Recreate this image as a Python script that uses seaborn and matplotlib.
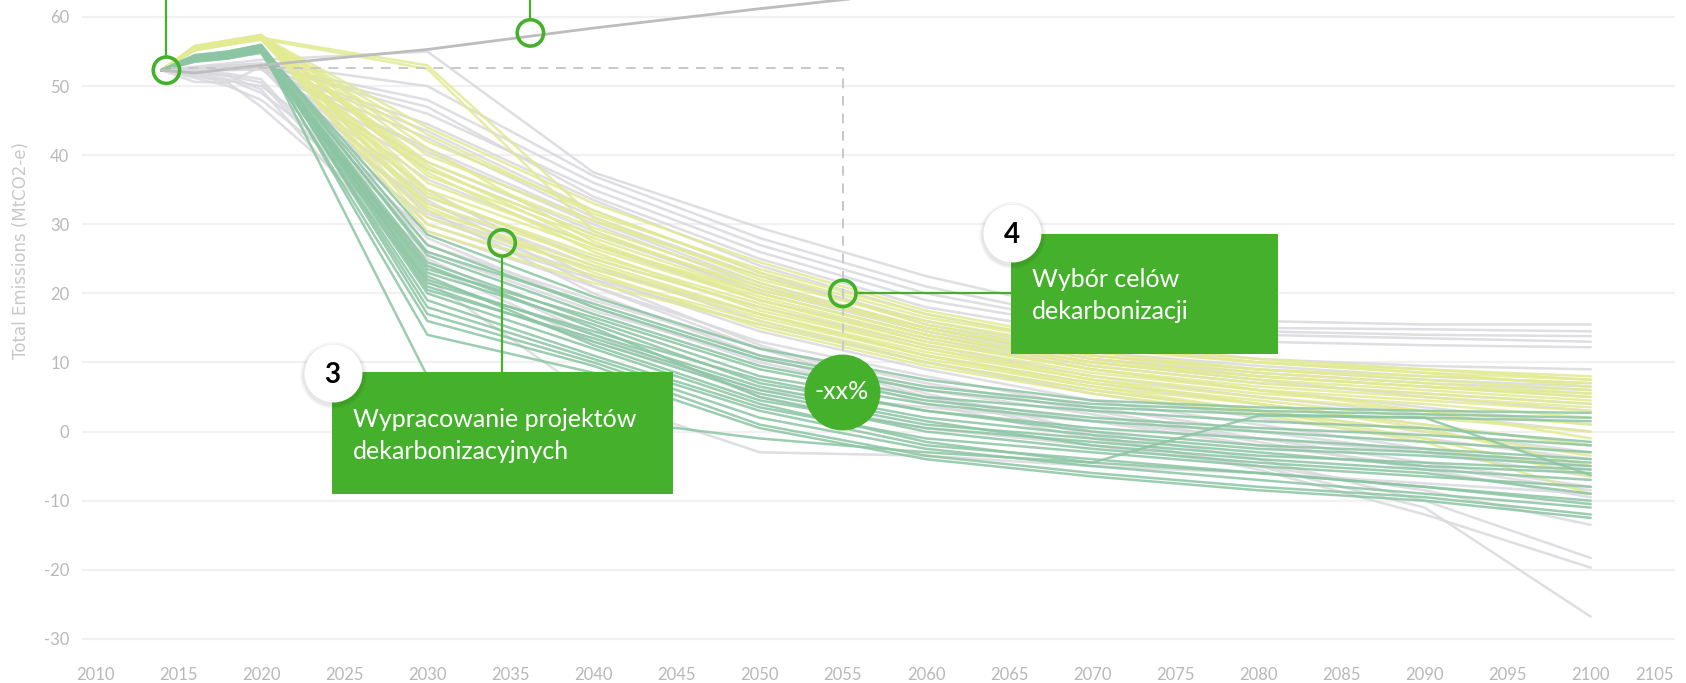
import numpy as np
import pandas as pd
import matplotlib
matplotlib.use("Agg")
import matplotlib.pyplot as plt
import seaborn as sns
from matplotlib.patches import Rectangle

# ==========================================
# Data
# ==========================================
YEARS = [2014, 2016, 2018, 2020, 2030, 2040, 2050, 2060, 2070, 2080, 2090, 2100]

GREY_PATHS = [
	[52.3, 52.8, 53.3, 53.8, 55.0, 37.5, 29.5, 22.5, 17.0, 16.0, 15.5, 15.5],
	[52.3, 52.6, 53.0, 53.3, 50.0, 37.0, 28.0, 21.0, 16.0, 15.0, 14.8, 14.5],
	[52.3, 52.5, 52.8, 53.0, 48.0, 36.0, 27.0, 20.0, 15.5, 14.5, 14.0, 13.8],
	[52.3, 52.7, 53.0, 53.2, 46.0, 35.0, 26.0, 19.0, 15.0, 14.0, 13.5, 13.0],
	[52.3, 52.4, 52.7, 52.9, 47.0, 34.0, 25.0, 18.0, 14.0, 13.0, 12.5, 12.2],
	[52.3, 52.5, 52.6, 52.8, 44.5, 33.5, 24.0, 17.0, 12.5, 10.5, 9.5, 9.0],
	[52.3, 52.3, 52.5, 52.5, 42.5, 31.0, 22.5, 16.0, 11.5, 9.5, 8.0, 7.0],
	[52.3, 52.6, 52.9, 53.1, 40.5, 30.0, 21.0, 15.0, 10.5, 8.0, 6.5, 5.0],
	[52.3, 52.4, 52.5, 52.6, 38.0, 28.5, 20.5, 14.5, 10.0, 7.5, 5.0, 3.0],
	[52.3, 52.5, 52.7, 52.9, 36.5, 27.0, 19.0, 13.5, 9.0, 6.0, 3.5, 1.0],
	[52.3, 52.2, 52.4, 52.5, 34.0, 25.0, 18.0, 12.5, 8.0, 5.0, 2.5, 0.0],
	[52.3, 52.6, 52.8, 53.0, 31.5, 23.5, 17.0, 11.0, 7.0, 4.0, 1.0, -2.0],
	[52.3, 52.4, 52.6, 52.7, 30.0, 22.0, 15.5, 10.0, 6.0, 3.0, 0.0, -3.0],
	[52.3, 51.5, 50.8, 50.0, 33.0, 24.0, 16.0, 10.0, 5.5, 2.0, -1.0, -4.0],
	[52.3, 51.8, 51.0, 49.0, 31.0, 22.5, 14.5, 9.0, 4.5, 1.0, -2.5, -5.5],
	[52.3, 51.2, 50.0, 48.0, 29.0, 21.0, 13.0, 8.0, 3.5, 0.0, -3.0, -6.5],
	[52.3, 50.6, 50.5, 52.8, 27.0, 19.0, 12.0, 7.0, 3.0, -1.0, -4.5, -8.0],
	[52.3, 51.5, 50.5, 47.0, 26.0, 17.5, 10.5, 6.0, 2.5, -1.5, -5.5, -9.5],
	[52.3, 52.0, 51.5, 50.5, 24.0, 13.0, 6.0, 3.5, 1.5, -1.0, -3.0, -5.0],
	[52.3, 52.0, 51.5, 49.5, 22.0, 5.0, -3.0, -3.5, -5.0, -6.0, -7.5, -9.0],
	[52.3, 52.2, 51.8, 51.0, 25.0, 14.0, 5.0, 0.5, -2.0, -5.0, -8.5, -13.5],
	[52.3, 52.4, 52.6, 52.8, 32.0, 20.0, 11.0, 4.0, -1.0, -5.0, -11.0, -26.8],
	[52.3, 52.5, 52.7, 52.9, 35.0, 22.0, 12.5, 5.5, 0.0, -4.0, -10.0, -18.3],
	[52.3, 52.3, 52.5, 52.6, 33.5, 21.0, 12.0, 5.0, -0.5, -5.5, -12.0, -19.7],
	[52.3, 52.6, 52.9, 53.2, 39.0, 29.0, 20.0, 14.0, 9.5, 7.0, 5.5, 4.0],
	[52.3, 52.5, 52.7, 52.9, 43.5, 32.0, 23.0, 15.5, 11.0, 9.0, 7.5, 6.5],
	[52.3, 52.4, 52.6, 52.8, 28.0, 18.0, 10.0, 5.0, 1.5, -2.0, -5.0, -8.5],
	[52.3, 52.2, 52.3, 52.4, 41.0, 30.5, 21.5, 15.0, 10.5, 8.5, 7.0, 6.0],
]

YELLOW_PATHS = [
	[52.3, 55.5, 56.3, 57.0, 53.0, 31.0, 22.0, 16.0, 12.0, 10.0, 9.0, 8.0],
	[52.3, 55.2, 56.0, 56.8, 52.5, 29.0, 20.5, 15.0, 11.0, 9.0, 8.0, 7.0],
	[52.3, 55.6, 56.4, 57.2, 44.0, 33.0, 24.5, 17.5, 13.0, 10.5, 9.0, 7.5],
	[52.3, 55.3, 56.1, 56.9, 42.0, 32.0, 23.0, 16.5, 12.5, 10.0, 8.5, 6.5],
	[52.3, 55.7, 56.5, 57.3, 40.0, 30.5, 22.5, 15.5, 11.5, 9.0, 7.5, 6.0],
	[52.3, 55.4, 56.2, 57.0, 39.0, 29.5, 21.5, 15.0, 11.0, 8.5, 7.0, 5.5],
	[52.3, 55.5, 56.3, 57.1, 38.0, 28.5, 21.0, 14.5, 10.5, 8.0, 6.5, 5.0],
	[52.3, 55.8, 56.6, 57.4, 37.0, 28.0, 20.0, 14.0, 10.0, 7.5, 6.0, 4.5],
	[52.3, 55.2, 56.0, 56.7, 36.0, 27.0, 19.5, 13.5, 9.5, 7.0, 5.5, 4.0],
	[52.3, 55.6, 56.4, 57.2, 35.0, 26.5, 19.0, 13.0, 9.0, 6.5, 5.0, 3.5],
	[52.3, 55.4, 56.2, 56.9, 34.0, 25.5, 18.5, 12.5, 8.5, 6.0, 4.5, 3.0],
	[52.3, 55.5, 56.3, 57.0, 33.0, 25.0, 18.0, 12.0, 8.0, 5.5, 4.0, 2.0],
	[52.3, 55.7, 56.5, 57.3, 32.0, 24.0, 17.0, 11.5, 7.5, 5.0, 3.0, 1.0],
	[52.3, 55.3, 56.1, 56.8, 31.0, 23.5, 16.5, 11.0, 7.0, 4.5, 2.0, 0.0],
	[52.3, 55.6, 56.4, 57.1, 30.0, 22.5, 16.0, 10.5, 6.5, 4.0, 1.0, -2.0],
	[52.3, 55.4, 56.2, 57.0, 29.0, 21.5, 15.5, 10.0, 6.0, 3.0, 0.0, -3.5],
	[52.3, 55.5, 56.3, 57.1, 37.5, 26.0, 17.5, 12.0, 7.5, 4.0, 0.5, -5.0],
	[52.3, 55.8, 56.6, 57.4, 41.0, 27.5, 19.0, 13.0, 9.0, 6.0, 3.0, -1.0],
	[52.3, 55.2, 56.0, 56.8, 34.5, 24.5, 17.0, 11.0, 6.5, 3.0, -1.0, -6.5],
	[52.3, 55.6, 56.4, 57.2, 32.5, 23.0, 15.0, 9.5, 5.5, 2.5, -1.5, -9.0],
	[52.3, 55.5, 56.3, 57.0, 43.0, 31.5, 23.5, 17.0, 12.5, 10.0, 8.5, 7.5],
	[52.3, 55.3, 56.1, 56.9, 38.5, 27.0, 20.0, 14.0, 10.0, 8.0, 6.5, 5.5],
]

TEAL_PATHS = [
	[52.3, 54.0, 54.6, 55.6, 28.5, 19.5, 12.0, 7.5, 4.5, 3.5, 3.0, 2.7],
	[52.3, 54.2, 54.8, 55.8, 27.0, 18.0, 10.5, 6.0, 3.5, 2.5, 2.0, 1.5],
	[52.3, 54.5, 55.0, 56.0, 25.5, 17.0, 9.5, 5.0, 3.0, 1.5, 0.5, -1.5],
	[52.3, 53.8, 54.2, 55.2, 24.5, 16.0, 8.0, 4.0, 1.5, 0.0, -1.5, -3.0],
	[52.3, 54.0, 54.5, 55.4, 23.0, 15.5, 7.0, 3.0, 0.5, -1.0, -2.5, -4.0],
	[52.3, 53.5, 54.0, 55.0, 22.0, 14.0, 6.5, 2.0, -0.5, -2.5, -3.5, -5.0],
	[52.3, 54.3, 54.8, 55.7, 21.0, 13.0, 5.5, 1.0, -1.0, -3.0, -5.0, -6.0],
	[52.3, 54.0, 54.4, 55.3, 20.0, 12.0, 4.0, -1.5, -4.5, 2.3, 2.0, -6.3],
	[52.3, 53.8, 54.3, 55.1, 19.0, 11.0, 3.5, -1.0, -3.0, -5.0, -6.5, -8.0],
	[52.3, 54.1, 54.6, 55.5, 18.0, 10.5, 3.0, -2.0, -4.0, -6.0, -8.0, -10.0],
	[52.3, 54.4, 55.0, 55.9, 17.0, 10.0, 2.0, -2.5, -5.0, -7.0, -9.0, -11.0],
	[52.3, 53.6, 54.0, 54.8, 16.0, 9.5, 1.0, -3.5, -6.0, -8.0, -9.5, -12.0],
	[52.3, 54.0, 54.5, 55.4, 14.0, 8.5, 0.5, -4.0, -6.5, -8.5, -10.0, -12.5],
	[52.3, 54.2, 54.6, 55.6, 8.0, 2.0, -1.0, -3.0, -4.5, -6.0, -8.0, -10.5],
	[52.3, 54.0, 54.5, 55.3, 26.0, 18.5, 11.0, 6.5, 4.0, 3.0, 2.5, 2.0],
	[52.3, 53.9, 54.4, 55.2, 23.5, 16.5, 9.0, 4.5, 2.0, 0.5, -0.5, -2.0],
	[52.3, 54.3, 54.9, 55.8, 21.5, 14.5, 7.5, 3.0, 0.0, -2.0, -3.0, -4.5],
	[52.3, 54.1, 54.7, 55.5, 20.5, 13.5, 6.0, 1.5, -2.0, -4.0, -5.5, -7.0],
	[52.3, 53.7, 54.2, 55.0, 24.0, 15.0, 5.0, 0.0, -2.5, -4.5, -6.0, -9.0],
	[52.3, 54.0, 54.6, 55.4, 22.5, 12.5, 4.5, 0.5, -1.5, -3.5, -4.5, -5.5],
]

BAU_YEARS = [2014, 2016, 2020, 2030, 2040, 2050, 2060]
BAU_VALUES = [52.3, 51.9, 53.0, 55.3, 58.4, 61.2, 63.8]

X_TICKS = list(range(2010, 2106, 5))
Y_TICKS = [-30, -20, -10, 0, 10, 20, 30, 40, 50, 60]
Y_LABEL = "Total Emissions (MtCO2-e)"
BOX3_LINES = ["Wypracowanie projektów", "dekarbonizacyjnych"]
BOX4_LINES = ["Wybór celów", "dekarbonizacji"]
BADGE3 = "3"
BADGE4 = "4"
REDUCTION_TEXT = "-xx%"

GREEN = "#45b02b"
COLORS = {"grey": "#d9d9de", "yellow": "#e2ea92", "teal": "#8cc5a3"}

# ==========================================
# Long-form table for seaborn
# ==========================================
rows = []
for group, paths in [("grey", GREY_PATHS), ("yellow", YELLOW_PATHS), ("teal", TEAL_PATHS)]:
	for i, path in enumerate(paths):
		for yr, v in zip(YEARS, path):
			rows.append({"year": yr, "value": v, "group": group, "scenario": f"{group}_{i}"})
df = pd.DataFrame(rows)

# ==========================================
# Figure
# ==========================================
sns.set_theme(style="white")
plt.rcParams["font.family"] = ["Lato", "DejaVu Sans"]
plt.rcParams["axes.unicode_minus"] = False

fig = plt.figure(figsize=(16.86, 6.83), dpi=100)
ax = fig.add_axes([82 / 1686, 20 / 683, (1675 - 82) / 1686, 663 / 683])
ax.set_xlim(2009.22, 2105.07)
ax.set_ylim(-33.5, 62.46)

for y in Y_TICKS:
	ax.axhline(y, color="#f1f1f1", lw=1.6, zorder=0)

for group in ["grey", "yellow", "teal"]:
	sns.lineplot(data=df[df.group == group], x="year", y="value", units="scenario",
				 estimator=None, color=COLORS[group], lw=1.8, alpha=0.85,
				 legend=False, sort=False, ax=ax, zorder=2)

# business-as-usual line
sns.lineplot(x=BAU_YEARS, y=BAU_VALUES, color="#bdbdbd", lw=2.0, ax=ax, zorder=3)

# dashed reference
ax.plot([2014.6, 2055.0, 2055.0], [52.6, 52.6, 11.0], color="#c8c8c8", lw=1.4,
		ls=(0, (5, 4)), zorder=3)

ax.set_xticks(X_TICKS)
ax.set_yticks(Y_TICKS)
ax.set_xlabel("")
ax.set_ylabel("")
ax.tick_params(axis="both", length=0, labelsize=12, labelcolor="#b8b8b8")
ax.tick_params(axis="y", pad=9)
ax.tick_params(axis="x", pad=3)
ax.get_xticklabels()[-1].set_ha("right")
for s in ax.spines.values():
	s.set_visible(False)

fig.text(21 / 1686, 1 - 250 / 683, Y_LABEL, rotation=90, ha="center", va="center",
		 fontsize=12, color="#c8c8c8", family="DejaVu Sans")

# ==========================================
# Annotation overlay
# ==========================================
# leader lines
ax.plot([2014.3, 2014.3], [54.5, 62.5], color=GREEN, lw=1.6, zorder=5)
ax.plot([2036.2, 2036.2], [59.9, 62.5], color=GREEN, lw=1.6, zorder=5)
ax.plot([2034.5, 2034.5], [25.1, 8.6], color=GREEN, lw=1.6, zorder=5)
ax.plot([2055.9, 2065.1], [20.0, 20.0], color=GREEN, lw=1.6, zorder=5)

# hollow ring markers
ax.scatter([2014.3, 2036.2, 2034.5, 2055.0], [52.3, 57.7, 27.3, 20.0], s=360,
		   facecolors="none", edgecolors=GREEN, linewidths=2.6, zorder=6)

# boxes
ax.add_patch(Rectangle((2024.26, -9.03), 2044.78 - 2024.26, 8.63 + 9.03,
					   color=GREEN, zorder=7, lw=0))
ax.add_patch(Rectangle((2065.11, 11.23), 2081.18 - 2065.11, 28.6 - 11.23,
					   color=GREEN, zorder=7, lw=0))
ax.text(2025.52, 1.68, BOX3_LINES[0], color="white", fontsize=18, va="center", zorder=8)
ax.text(2025.52, -2.95, BOX3_LINES[1], color="white", fontsize=18, va="center", zorder=8)
ax.text(2066.38, 21.94, BOX4_LINES[0], color="white", fontsize=18, va="center", zorder=8)
ax.text(2066.38, 17.31, BOX4_LINES[1], color="white", fontsize=18, va="center", zorder=8)

# numbered badges with soft shadow
for bx, by, label in [(2024.3, 8.5, BADGE3), (2065.2, 28.7, BADGE4)]:
	for s, a in [(2300, 0.04), (2050, 0.06)]:
		ax.scatter([bx], [by - 0.3], s=s, color="black", alpha=a, lw=0, zorder=8)
	ax.scatter([bx], [by], s=1740, color="white", lw=0, zorder=9)
	ax.text(bx, by - 0.3, label, ha="center", va="center", fontsize=20,
			fontweight="bold", color="black", zorder=10)

# reduction bubble
ax.scatter([2054.95], [5.73], s=2990, color=GREEN, lw=0, zorder=8)
ax.text(2054.95, 5.73, REDUCTION_TEXT, ha="center", va="center", fontsize=18,
		color="white", zorder=9)

fig.savefig("out.png", dpi=100)
